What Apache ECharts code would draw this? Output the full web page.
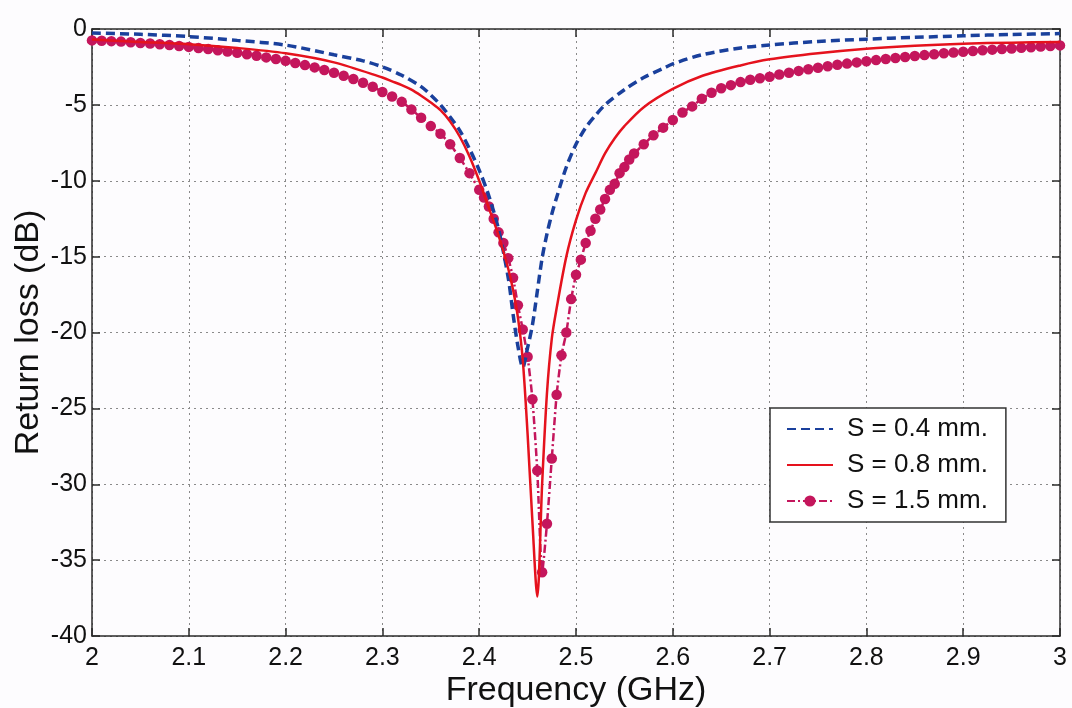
<!DOCTYPE html>
<html>
<head>
<meta charset="utf-8">
<script src="https://cdn.jsdelivr.net/npm/echarts@6/dist/echarts.min.js"></script>
<style>
  html, body { margin: 0; padding: 0; background: #fdfcfe; }
  #chart { width: 1072px; height: 708px; }
</style>
</head>
<body>
<div id="chart"></div>
<script>
// values (frequency in GHz, return loss in dB)
const xTicks = ['2', '2.1', '2.2', '2.3', '2.4', '2.5', '2.6', '2.7', '2.8', '2.9', '3'];
const yTicks = ['0', '-5', '-10', '-15', '-20', '-25', '-30', '-35', '-40'];
const seriesNames = ['S = 0.4 mm.', 'S = 0.8 mm.', 'S = 1.5 mm.'];

const freqS04 = [2.00, 2.05, 2.10, 2.15, 2.20, 2.25, 2.28, 2.30, 2.32, 2.34, 2.35, 2.36, 2.37, 2.38, 2.39, 2.40,
  2.41, 2.42, 2.43, 2.435, 2.44, 2.445, 2.45, 2.455, 2.46, 2.465, 2.47, 2.475, 2.48, 2.49, 2.50,
  2.51, 2.52, 2.53, 2.55, 2.57, 2.59, 2.60, 2.63, 2.67, 2.70, 2.75, 2.80, 2.85, 2.90, 2.95, 3.00];
const lossS04 = [-0.26, -0.35, -0.5, -0.75, -1.06, -1.7, -2.1, -2.5, -3.05, -3.8, -4.35, -5.0, -5.8, -6.7, -7.9, -9.3,
  -11.0, -13.2, -16.4, -18.8, -20.9, -22.3, -21.0, -19.5, -17.3, -15.1, -13.5, -12.2, -11.1, -9.1, -7.6,
  -6.5, -5.7, -5.0, -4.0, -3.2, -2.6, -2.3, -1.7, -1.25, -1.05, -0.82, -0.67, -0.55, -0.45, -0.36, -0.3];

const freqS08 = [2.00, 2.05, 2.10, 2.15, 2.20, 2.25, 2.30, 2.31, 2.32, 2.33, 2.34, 2.35, 2.36, 2.37, 2.38, 2.39, 2.40,
  2.41, 2.42, 2.43, 2.435, 2.44, 2.445, 2.45, 2.455, 2.46, 2.465, 2.47, 2.475, 2.48, 2.49, 2.50,
  2.51, 2.52, 2.53, 2.54, 2.55, 2.57, 2.60, 2.63, 2.67, 2.70, 2.75, 2.80, 2.85, 2.90, 2.95, 3.00];
const lossS08 = [-0.7, -0.85, -1.0, -1.25, -1.6, -2.2, -3.2, -3.45, -3.7, -4.0, -4.4, -4.85, -5.35, -6.1, -7.1, -8.4, -10.0,
  -11.8, -13.6, -15.8, -17.2, -19.0, -21.8, -26.7, -32.5, -37.4, -30.0, -24.0, -20.4, -18.4, -15.0, -12.6,
  -10.8, -9.5, -8.2, -7.2, -6.4, -5.15, -3.95, -3.1, -2.4, -2.0, -1.6, -1.3, -1.1, -0.97, -0.9, -0.85];

const freqS15 = [2.00, 2.01, 2.02, 2.03, 2.04, 2.05, 2.06, 2.07, 2.08, 2.09, 2.10, 2.11, 2.12, 2.13, 2.14, 2.15,
  2.16, 2.17, 2.18, 2.19, 2.20, 2.21, 2.22, 2.23, 2.24, 2.25, 2.26, 2.27, 2.28, 2.29, 2.30, 2.31, 2.32, 2.33,
  2.34, 2.35, 2.36, 2.37, 2.38, 2.39, 2.40, 2.405, 2.41, 2.415, 2.42, 2.425, 2.43, 2.435, 2.44, 2.445, 2.45,
  2.455, 2.46, 2.465, 2.47, 2.475, 2.48, 2.485, 2.49, 2.495, 2.50, 2.505, 2.51, 2.515, 2.52, 2.525, 2.53,
  2.535, 2.54, 2.545, 2.55, 2.555, 2.56, 2.57, 2.58, 2.59, 2.60, 2.61, 2.62, 2.63, 2.64, 2.65, 2.66, 2.67,
  2.68, 2.69, 2.70, 2.71, 2.72, 2.73, 2.74, 2.75, 2.76, 2.77, 2.78, 2.79, 2.80, 2.81, 2.82, 2.83, 2.84, 2.85,
  2.86, 2.87, 2.88, 2.89, 2.90, 2.91, 2.92, 2.93, 2.94, 2.95, 2.96, 2.97, 2.98, 2.99, 3.00];
const lossS15 = [-0.75, -0.78, -0.8, -0.83, -0.87, -0.92, -0.96, -1.0, -1.06, -1.12, -1.18, -1.25, -1.32, -1.4, -1.48, -1.57,
  -1.66, -1.76, -1.87, -1.98, -2.1, -2.24, -2.38, -2.53, -2.7, -2.88, -3.08, -3.3, -3.54, -3.8, -4.15, -4.45, -4.8, -5.3,
  -5.85, -6.4, -6.9, -7.6, -8.5, -9.5, -10.6, -11.1, -11.7, -12.5, -13.4, -14.1, -15.1, -16.4, -18.2, -19.8, -21.6,
  -24.4, -29.1, -35.8, -32.6, -28.3, -24.1, -21.5, -20.0, -17.8, -16.2, -15.2, -14.1, -13.3, -12.5, -11.9, -11.2,
  -10.6, -10.2, -9.5, -9.1, -8.6, -8.2, -7.6, -7.0, -6.5, -6.0, -5.5, -5.1, -4.6, -4.2, -3.9, -3.7, -3.5,
  -3.35, -3.25, -3.15, -3.0, -2.88, -2.76, -2.65, -2.55, -2.45, -2.36, -2.28, -2.2, -2.12, -2.05, -1.98, -1.91, -1.85, -1.78,
  -1.72, -1.66, -1.6, -1.55, -1.5, -1.45, -1.4, -1.36, -1.32, -1.28, -1.24, -1.2, -1.16, -1.12, -1.08];

const zip = (xs, ys) => xs.map((x, i) => [x, ys[i]]);

const font = "'Liberation Sans', Arial, Helvetica, sans-serif";
const frameColor = '#2b2b2b';
const gridLine = { show: true, lineStyle: { type: [2, 4], color: '#8a8a8a', width: 1 } };

const chart = echarts.init(document.getElementById('chart'));

const option = {
  backgroundColor: '#fdfcfe',
  animation: false,
  textStyle: { fontFamily: font },
  grid: { left: 92, right: 12, top: 29, bottom: 72, outerBoundsMode: 'none', containLabel: false },
  legend: {
    orient: 'vertical',
    left: 770,
    top: 408,
    data: [
      { name: seriesNames[0], itemStyle: { opacity: 0 } },
      { name: seriesNames[1], itemStyle: { opacity: 0 } },
      { name: seriesNames[2] }
    ],
    backgroundColor: '#ffffff',
    borderColor: '#333333',
    borderWidth: 1.5,
    borderRadius: 0,
    padding: [8, 18, 8, 16],
    itemWidth: 46,
    itemHeight: 14,
    itemGap: 10,
    textStyle: { fontSize: 26, color: '#111', fontFamily: font, padding: [0, 0, 0, 9] }
  },
  xAxis: [
    {
      type: 'value',
      min: 2,
      max: 3,
      interval: 0.1,
      name: 'Frequency (GHz)',
      nameLocation: 'middle',
      nameGap: 38,
      nameMoveOverlap: false,
      nameTextStyle: { fontSize: 34, color: '#111' },
      axisLine: { show: true, onZero: false, lineStyle: { color: frameColor, width: 1.5 } },
      axisTick: { show: true, inside: true, length: 8, lineStyle: { color: frameColor, width: 1.5 } },
      axisLabel: {
        fontSize: 25, color: '#111', margin: 10,
        formatter: (v, i) => xTicks[i]
      },
      splitLine: gridLine
    },
    {
      type: 'value',
      position: 'top',
      min: 2,
      max: 3,
      interval: 0.1,
      axisLine: { show: true, onZero: false, lineStyle: { color: frameColor, width: 1.5 } },
      axisTick: { show: true, inside: true, length: 8, lineStyle: { color: frameColor, width: 1.5 } },
      axisLabel: { show: false },
      splitLine: { show: false }
    }
  ],
  yAxis: [
    {
      type: 'value',
      min: -40,
      max: 0,
      interval: 5,
      name: 'Return loss (dB)',
      nameLocation: 'middle',
      nameGap: 46,
      nameMoveOverlap: false,
      nameTextStyle: { fontSize: 34, color: '#111' },
      axisLine: { show: true, onZero: false, lineStyle: { color: frameColor, width: 1.5 } },
      axisTick: { show: true, inside: true, length: 8, lineStyle: { color: frameColor, width: 1.5 } },
      axisLabel: {
        fontSize: 25, color: '#111', margin: 5,
        formatter: (v) => yTicks[Math.round(-v / 5)]
      },
      splitLine: gridLine
    },
    {
      type: 'value',
      position: 'right',
      min: -40,
      max: 0,
      interval: 5,
      axisLine: { show: true, onZero: false, lineStyle: { color: frameColor, width: 1.5 } },
      axisTick: { show: true, inside: true, length: 8, lineStyle: { color: frameColor, width: 1.5 } },
      axisLabel: { show: false },
      splitLine: { show: false }
    }
  ],
  series: [
    {
      name: seriesNames[0],
      type: 'line',
      data: zip(freqS04, lossS04),
      smooth: 0.3,
      symbol: 'none',
      z: 3,
      lineStyle: { color: '#1a409c', width: 3.5, type: [9, 5] },
      itemStyle: { color: '#1a409c' }
    },
    {
      name: seriesNames[1],
      type: 'line',
      data: zip(freqS08, lossS08),
      smooth: 0.3,
      symbol: 'none',
      z: 4,
      lineStyle: { color: '#e5121d', width: 2.5, type: 'solid' },
      itemStyle: { color: '#e5121d' }
    },
    {
      name: seriesNames[2],
      type: 'line',
      data: zip(freqS15, lossS15),
      smooth: 0.2,
      symbol: 'circle',
      symbolSize: 10.5,
      showSymbol: true,
      z: 2,
      lineStyle: { color: '#c4165c', width: 2.5, type: [8, 3, 2, 3] },
      itemStyle: { color: '#c4165c' }
    }
  ]
};

chart.setOption(option);
</script>
</body>
</html>
